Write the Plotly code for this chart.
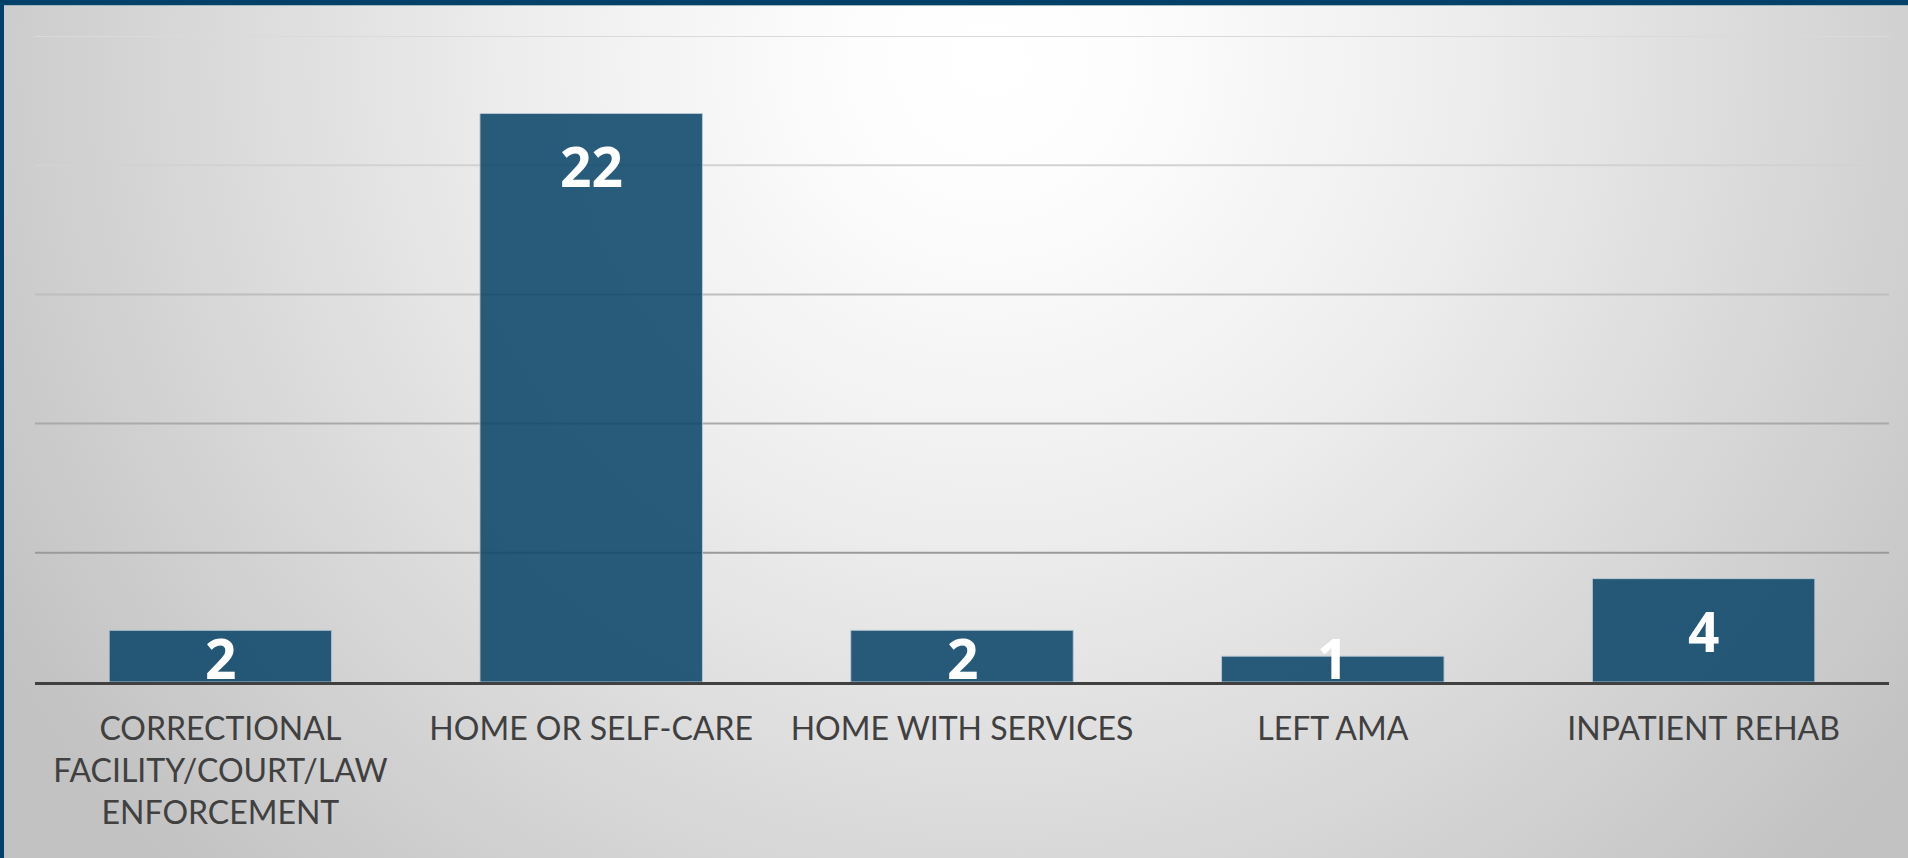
import base64
import plotly.graph_objects as go

# Discharge disposition counts
categories = [
    "CORRECTIONAL<br>FACILITY/COURT/LAW<br>ENFORCEMENT",
    "HOME OR SELF-CARE",
    "HOME WITH SERVICES",
    "LEFT AMA",
    "INPATIENT REHAB",
]
counts = [2, 22, 2, 1, 4]
grid_values = [5, 10, 15, 20, 25]

W, H = 1908, 858
ML, MR, MT, MB = 35, 19, 36, 176
PW, PH = W - ML - MR, H - MT - MB
Y_MAX = 25
PX_PER_UNIT = PH / Y_MAX

# Background: soft radial gradient with a navy frame on the top and left edges
svg = f"""<svg xmlns='http://www.w3.org/2000/svg' width='{W}' height='{H}' viewBox='0 0 {W} {H}'>
<defs><radialGradient id='g' gradientUnits='userSpaceOnUse' cx='990' cy='60' r='1150'>
<stop offset='0' stop-color='#ffffff'/>
<stop offset='0.12' stop-color='#fdfdfd'/>
<stop offset='0.40' stop-color='#eeeeee'/>
<stop offset='1' stop-color='#c2c2c2'/>
</radialGradient></defs>
<rect x='0' y='0' width='{W}' height='{H}' fill='url(#g)'/>
<rect x='0' y='0' width='{W}' height='5' fill='#00416a'/>
<rect x='0' y='0' width='4' height='{H}' fill='#00416a'/>
<rect x='4' y='5' width='{W}' height='1' fill='#a9b4bd'/>
</svg>"""
bg_uri = "data:image/svg+xml;base64," + base64.b64encode(svg.encode()).decode()

fig = go.Figure()
fig.add_trace(go.Bar(
    x=categories,
    y=counts,
    marker=dict(color="rgba(12,70,105,0.88)",
                line=dict(color="rgba(185,202,214,0.9)", width=1)),
    width=0.6,
    hoverinfo="skip",
))

# Value labels inside the top of each bar; short bars keep the label near the base
for cat, v in zip(categories, counts):
    shift = -min(52, v * PX_PER_UNIT - 25)
    fig.add_annotation(
        x=cat, y=v, xref="x", yref="y", text=str(v), showarrow=False,
        yanchor="middle", yshift=shift,
        font=dict(family="Open Sans", size=55, color="white", weight="bold"),
    )

# Horizontal gridlines, shading darker toward the baseline
grid_colors = {25: "#dadada", 20: "#d2d2d2", 15: "#bebebe", 10: "#a9a9a9", 5: "#9a9a9a"}
for gv in grid_values:
    fig.add_shape(type="line", xref="paper", yref="y", x0=0, x1=1, y0=gv, y1=gv,
                  line=dict(color=grid_colors[gv], width=2), layer="below")

fig.add_layout_image(
    source=bg_uri, xref="paper", yref="paper",
    x=-ML / PW, y=1 + MT / PH, sizex=W / PW, sizey=H / PH,
    xanchor="left", yanchor="top", sizing="stretch", layer="below",
)

fig.update_layout(
    width=W, height=H,
    margin=dict(l=ML, r=MR, t=MT, b=MB, pad=0),
    paper_bgcolor="rgba(0,0,0,0)",
    plot_bgcolor="rgba(0,0,0,0)",
    showlegend=False,
    bargap=0.4,
    xaxis=dict(
        showgrid=False, zeroline=False, showline=True,
        linecolor="#404040", linewidth=3,
        ticks="outside", ticklen=17, tickcolor="rgba(0,0,0,0)",
        tickfont=dict(family="Lato", size=32, color="#404040"),
        fixedrange=True,
    ),
    yaxis=dict(
        range=[0, Y_MAX], showgrid=False, zeroline=False, showticklabels=False,
        fixedrange=True,
    ),
)

fig.write_html("out.html")
